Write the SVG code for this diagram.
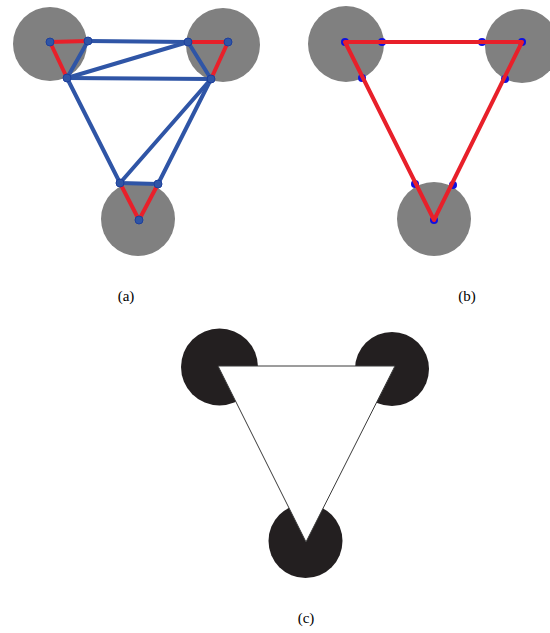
<svg xmlns="http://www.w3.org/2000/svg" width="550" height="633" viewBox="0 0 550 633">
<style>
.disc{fill:#808080}
.red{stroke:#e8202a;stroke-width:4;stroke-linecap:round;stroke-linejoin:round;fill:none}
.blue{stroke:#2f55a6;stroke-width:4;stroke-linecap:round;fill:none}
.dotA{fill:#2f55a6;stroke:#1d3f9c;stroke-width:1}
.dotB{fill:#1010e0}
.black{fill:#231f20}
.lbl{font-size:15px;fill:#000;text-anchor:middle}
</style>
<rect width="550" height="633" fill="#fff"/>
<!-- Panel (a) -->
<g id="panel-a">
  <g id="a-discs">
    <circle class="disc" cx="50" cy="44" r="37"/>
    <circle class="disc" cx="223" cy="45" r="37"/>
    <circle class="disc" cx="138" cy="219" r="37"/>
  </g>
  <g id="a-connectors">
    <line class="blue" x1="88" y1="41" x2="188" y2="42"/>
    <line class="blue" x1="88" y1="41" x2="67" y2="78"/>
    <line class="blue" x1="67" y1="78" x2="188" y2="42"/>
    <line class="blue" x1="67" y1="78" x2="211" y2="79"/>
    <line class="blue" x1="188" y1="42" x2="211" y2="79"/>
    <line class="blue" x1="67" y1="78" x2="120" y2="183"/>
    <line class="blue" x1="211" y1="79" x2="120" y2="183"/>
    <line class="blue" x1="211" y1="79" x2="158" y2="184"/>
    <line class="blue" x1="120" y1="183" x2="158" y2="184"/>
    <line class="red" x1="50" y1="42" x2="88" y2="41"/>
    <line class="red" x1="50" y1="42" x2="67" y2="78"/>
    <line class="red" x1="228" y1="42" x2="188" y2="42"/>
    <line class="red" x1="228" y1="42" x2="211" y2="79"/>
    <line class="red" x1="139" y1="220" x2="120" y2="183"/>
    <line class="red" x1="139" y1="220" x2="158" y2="184"/>
  </g>
  <g id="a-nodes">
    <circle class="dotA" cx="50" cy="42" r="4"/>
    <circle class="dotA" cx="88" cy="41" r="4"/>
    <circle class="dotA" cx="67" cy="78" r="4"/>
    <circle class="dotA" cx="228" cy="42" r="4"/>
    <circle class="dotA" cx="188" cy="42" r="4"/>
    <circle class="dotA" cx="211" cy="79" r="4"/>
    <circle class="dotA" cx="139" cy="220" r="4"/>
    <circle class="dotA" cx="120" cy="183" r="4"/>
    <circle class="dotA" cx="158" cy="184" r="4"/>
  </g>
  <text class="lbl" x="126" y="301" font-family="Liberation Serif, serif">(a)</text>
</g>
<!-- Panel (b) -->
<g id="panel-b">
  <g id="b-discs">
    <circle class="disc" cx="346" cy="44" r="38"/>
    <circle class="disc" cx="522" cy="46" r="37"/>
    <circle class="disc" cx="434" cy="219" r="37"/>
  </g>
  <g id="b-nodes">
    <circle class="dotB" cx="345" cy="42" r="4"/>
    <circle class="dotB" cx="382" cy="42" r="4"/>
    <circle class="dotB" cx="482" cy="42" r="4"/>
    <circle class="dotB" cx="522" cy="42" r="4"/>
    <circle class="dotB" cx="362" cy="78" r="4"/>
    <circle class="dotB" cx="505" cy="79" r="4"/>
    <circle class="dotB" cx="415" cy="184" r="4"/>
    <circle class="dotB" cx="453" cy="185" r="4"/>
    <circle class="dotB" cx="434" cy="220" r="4"/>
  </g>
  <g id="b-connectors">
    <polygon class="red" points="345,42 522,42 434,220"/>
  </g>
  <text class="lbl" x="467" y="301" font-family="Liberation Serif, serif">(b)</text>
</g>
<!-- Panel (c) -->
<g id="panel-c">
  <circle class="black" cx="219.5" cy="367" r="38.5"/>
  <circle class="black" cx="392" cy="369" r="37"/>
  <circle class="black" cx="305.5" cy="541" r="37"/>
  <polygon points="218,366 395,366 306,542" fill="#fff" stroke="#3a3a3a" stroke-width="1"/>
  <text class="lbl" x="306" y="623" font-family="Liberation Serif, serif">(c)</text>
</g>
</svg>
